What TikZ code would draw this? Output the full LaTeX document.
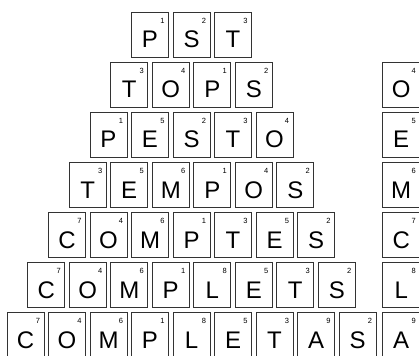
\documentclass[tikz,border=0pt]{standalone}
\usepackage{fontspec}
\setmainfont{Liberation Sans}
\usetikzlibrary{positioning}

% one row of the pyramid: #1 row, #2 number of tiles, #3 letter/value list
\newcommand{\tilerow}[3]{%
  \foreach \l/\v [count=\i from 0] in {#3} {
    \node[tilebox] (t#1-\i) at ({191.5+(\i-(#2-1)/2)*41.5}, {35+(#1-1)*50}) {\l};
    \node[tilenum] (n#1-\i) at ([xshift=-6.5pt,yshift=-9pt]t#1-\i.north east) {\v};
  }}

\begin{document}
\begin{tikzpicture}[
  x=1pt, y=-1pt,
  tilebox/.style={draw=black!80, line width=0.9pt, minimum width=37pt,
    minimum height=45pt, inner sep=0pt, text height=26pt, text depth=0pt,
    font=\fontsize{24}{24}\selectfont},
  tilenum/.style={inner sep=0pt, font=\fontsize{7.5}{8}\selectfont},
]
\useasboundingbox (0,0) rectangle (419,355);
\clip (0,0) rectangle (419,355);

%% ── Pyramid ──────────────────────────────────────────────
\tilerow{1}{3}{P/1,S/2,T/3}
\tilerow{2}{4}{T/3,O/4,P/1,S/2}
\tilerow{3}{5}{P/1,E/5,S/2,T/3,O/4}
\tilerow{4}{6}{T/3,E/5,M/6,P/1,O/4,S/2}
\tilerow{5}{7}{C/7,O/4,M/6,P/1,T/3,E/5,S/2}
\tilerow{6}{8}{C/7,O/4,M/6,P/1,L/8,E/5,T/3,S/2}
\tilerow{7}{9}{C/7,O/4,M/6,P/1,L/8,E/5,T/3,A/9,S/2}

%% ── Right column ─────────────────────────────────────────
\foreach \l/\v [count=\r from 2] in {O/4,E/5,M/6,C/7,L/8,A/9} {
  \node[tilebox] (c\r) at (401.2, {35+(\r-1)*50}) {\l};
  \node[tilenum] (cn\r) at ([xshift=-6.5pt,yshift=-9pt]c\r.north east) {\v};
}

\end{tikzpicture}
\end{document}
